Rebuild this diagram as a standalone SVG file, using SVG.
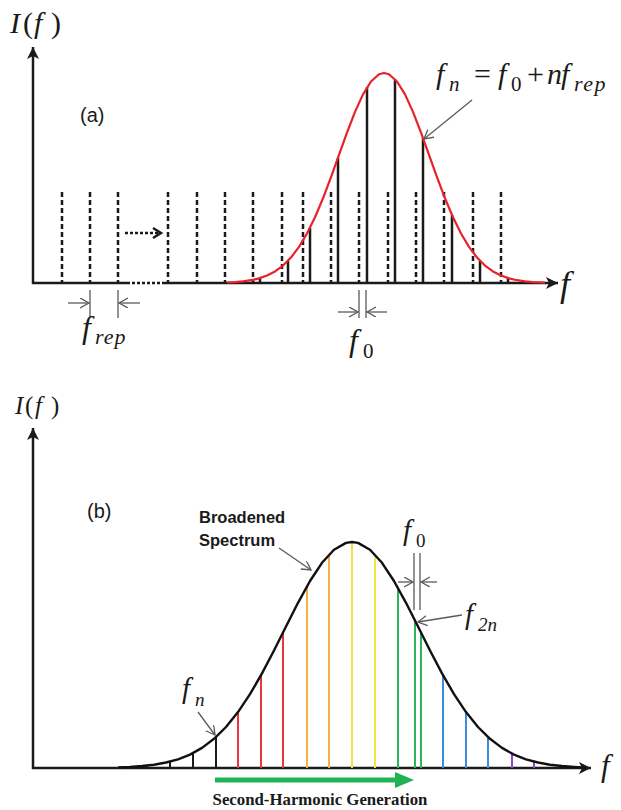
<svg xmlns="http://www.w3.org/2000/svg" width="621" height="810" viewBox="0 0 621 810">
<defs>
<style>
.axis{stroke:#1a1a1a;stroke-width:2.5;fill:none}
.dash{stroke:#1a1a1a;stroke-width:2.5;stroke-dasharray:5 3;fill:none}
.comb{stroke:#1a1a1a;stroke-width:2.5}
.gray{stroke:#5a5a5a;stroke-width:1.3;fill:none}
.ann{stroke:#5a5a5a;stroke-width:1.3;fill:none;marker-end:url(#open)}
.math{font-family:"Liberation Serif","Times New Roman",serif;fill:#1a1a1a}
.it{font-style:italic}
.sans{font-family:"Liberation Sans",Arial,sans-serif;fill:#1a1a1a}
.ln{stroke-width:2}
</style>
<marker id="solid" markerUnits="userSpaceOnUse" markerWidth="14" markerHeight="14" refX="12" refY="6" orient="auto">
<path d="M0,0 L12,6 L0,12 L3,6 Z" fill="#1a1a1a"/>
</marker>
<marker id="open" markerUnits="userSpaceOnUse" markerWidth="12" markerHeight="12" refX="9" refY="5" orient="auto">
<path d="M0,0 L9,5 L0,10" fill="none" stroke="#5a5a5a" stroke-width="1.3"/>
</marker>
</defs>
<rect width="621" height="810" fill="#fff"/>

<!-- ================= Panel (a) ================= -->
<g id="panel-a">
<g id="a-axes">
<line class="axis" x1="33" y1="284" x2="33" y2="47" marker-end="url(#solid)"/>
<line class="axis" x1="32" y1="283" x2="127" y2="283"/>
<line class="axis" x1="127" y1="283" x2="162" y2="283" stroke-dasharray="3 2"/>
<line class="axis" x1="162" y1="283" x2="558" y2="283" marker-end="url(#solid)"/>
<text class="math" font-size="30" y="33"><tspan x="10" class="it">I</tspan><tspan x="23">(</tspan><tspan x="34" class="it">f</tspan><tspan x="51">)</tspan></text>
<text class="math it" x="560" y="296" font-size="36">f</text>
<text class="sans" x="80" y="122" font-size="20">(a)</text>
</g>
<g id="a-dashed-comb">
<line class="dash" x1="62" y1="192" x2="62" y2="283"/>
<line class="dash" x1="90" y1="192" x2="90" y2="283"/>
<line class="dash" x1="118" y1="192" x2="118" y2="283"/>
<line class="dash" x1="168" y1="192" x2="168" y2="283"/>
<line class="dash" x1="197" y1="192" x2="197" y2="283"/>
<line class="dash" x1="225" y1="192" x2="225" y2="283"/>
<line class="dash" x1="253" y1="192" x2="253" y2="283"/>
<line class="dash" x1="282" y1="192" x2="282" y2="283"/>
<line class="dash" x1="303" y1="192" x2="303" y2="283"/>
<line class="dash" x1="331" y1="192" x2="331" y2="283"/>
<line class="dash" x1="359" y1="192" x2="359" y2="283"/>
<line class="dash" x1="388" y1="192" x2="388" y2="283"/>
<line class="dash" x1="416" y1="192" x2="416" y2="283"/>
<line class="dash" x1="444" y1="192" x2="444" y2="283"/>
<line class="dash" x1="473" y1="192" x2="473" y2="283"/>
<line class="dash" x1="501" y1="192" x2="501" y2="283"/>
</g>
<g id="a-shift-arrow">
<line x1="125" y1="233" x2="158" y2="233" stroke="#1a1a1a" stroke-width="2.5" stroke-dasharray="3 2"/>
<polyline points="153,228 161,233 153,238" fill="none" stroke="#1a1a1a" stroke-width="2.5"/>
</g>
<g id="a-solid-comb">
<line class="comb" x1="260" y1="283" x2="260" y2="278"/>
<line class="comb" x1="288" y1="283" x2="288" y2="261"/>
<line class="comb" x1="310" y1="283" x2="310" y2="228"/>
<line class="comb" x1="338" y1="283" x2="338" y2="158"/>
<line class="comb" x1="367" y1="283" x2="367" y2="87"/>
<line class="comb" x1="395" y1="283" x2="395" y2="79"/>
<line class="comb" x1="423" y1="283" x2="423" y2="138"/>
<line class="comb" x1="452" y1="283" x2="452" y2="215"/>
<line class="comb" x1="480" y1="283" x2="480" y2="261"/>
<line class="comb" x1="508" y1="283" x2="508" y2="278"/>
</g>
<g id="a-envelope">
<polyline fill="none" stroke="#e8222a" stroke-width="2.2" stroke-linejoin="round" points="227,282.5 235,282.1 243,281.4 251,280.2 259,278.4 267,275.5 275,271.4 283,265.6 291,257.5 299,246.9 307,233.5 315,217.2 323,198.3 331,177.2 339,154.9 347,132.6 355,111.9 363,94.4 371,81.5 379,74.3 384,73 389,74.3 397,81.5 405,94.4 413,111.9 421,132.6 429,154.9 437,177.2 445,198.3 453,217.2 461,233.5 469,246.9 477,257.5 485,265.6 493,271.4 501,275.5 509,278.4 517,280.2 525,281.4 533,282.1 545,282.7"/>
</g>
<g id="a-frep">
<line class="gray" x1="90" y1="290" x2="90" y2="318"/>
<line class="gray" x1="118" y1="290" x2="118" y2="318"/>
<line class="ann" x1="68" y1="303" x2="89" y2="303"/>
<line class="ann" x1="140" y1="303" x2="119" y2="303"/>
<text class="math it" font-size="32"><tspan x="82" y="338">f</tspan><tspan x="95" y="344" font-size="22" letter-spacing="1">rep</tspan></text>
</g>
<g id="a-f0">
<line class="gray" x1="359" y1="290" x2="359" y2="318"/>
<line class="gray" x1="366" y1="290" x2="366" y2="318"/>
<line class="ann" x1="338" y1="312" x2="358" y2="312"/>
<line class="ann" x1="387" y1="312" x2="367" y2="312"/>
<text class="math" font-size="32"><tspan x="349" y="351" class="it">f</tspan><tspan x="363" y="358" font-size="21">0</tspan></text>
</g>
<g id="a-formula">
<text class="math" font-size="30" y="84"><tspan x="436" class="it">f</tspan><tspan x="449" y="91" font-size="21" class="it">n</tspan><tspan x="474" y="84">=</tspan><tspan x="498" class="it">f</tspan><tspan x="511" y="91" font-size="21">0</tspan><tspan x="527" y="84">+</tspan><tspan x="547" class="it">n</tspan><tspan x="561" class="it">f</tspan><tspan x="574" y="91" font-size="22" class="it" letter-spacing="1.5">rep</tspan></text>
</g>
</g>

<!-- ================= Panel (b) ================= -->
<g id="panel-b">
<g id="b-axes">
<line class="axis" stroke-width="2.2" x1="33" y1="769" x2="33" y2="428" marker-end="url(#solid)"/>
<line class="axis" stroke-width="2.2" x1="32" y1="768" x2="591" y2="768" marker-end="url(#solid)"/>
<text class="math" font-size="25" y="414"><tspan x="15" class="it">I</tspan><tspan x="25">(</tspan><tspan x="35" class="it">f</tspan><tspan x="51">)</tspan></text>
<text class="math it" x="601" y="776" font-size="31">f</text>
<text class="sans" x="87" y="518" font-size="20">(b)</text>
</g>
<g id="b-comb">
<line class="ln" stroke="#1a1a1a" x1="147" y1="768" x2="147" y2="765.5"/>
<line class="ln" stroke="#1a1a1a" x1="170" y1="768" x2="170" y2="761.6"/>
<line class="ln" stroke="#1a1a1a" x1="193" y1="768" x2="193" y2="753.1"/>
<line class="ln" stroke="#1a1a1a" x1="216" y1="768" x2="216" y2="737.1"/>
<line class="ln" stroke="#e8363c" x1="238" y1="768" x2="238" y2="712.1"/>
<line class="ln" stroke="#e8363c" x1="261" y1="768" x2="261" y2="675.2"/>
<line class="ln" stroke="#e8363c" x1="283" y1="768" x2="283" y2="632.6"/>
<line class="ln" stroke="#f6b040" x1="307" y1="768" x2="307" y2="586.2"/>
<line class="ln" stroke="#f6b040" x1="329" y1="768" x2="329" y2="554.5"/>
<line class="ln" stroke="#f2e43a" x1="352" y1="768" x2="352" y2="542"/>
<line class="ln" stroke="#f2e43a" x1="375" y1="768" x2="375" y2="554.5"/>
<line class="ln" stroke="#2bb35e" x1="398" y1="768" x2="398" y2="588"/>
<line class="ln" stroke="#2bb35e" x1="415" y1="768" x2="415" y2="620.5"/>
<line class="ln" stroke="#2bb35e" x1="421" y1="768" x2="421" y2="632.6"/>
<line class="ln" stroke="#3a8ed8" x1="443" y1="768" x2="443" y2="675.2"/>
<line class="ln" stroke="#3a8ed8" x1="466" y1="768" x2="466" y2="712.1"/>
<line class="ln" stroke="#3a8ed8" x1="488" y1="768" x2="488" y2="737.1"/>
<line class="ln" stroke="#8a4cc4" x1="512" y1="768" x2="512" y2="753.6"/>
<line class="ln" stroke="#8a4cc4" x1="534" y1="768" x2="534" y2="761.6"/>
</g>
<g id="b-envelope">
<polyline fill="none" stroke="#111" stroke-width="2.4" stroke-linejoin="round" points="118,767.4 130,766.9 142,766 154,764.7 166,762.5 178,759.3 190,754.6 202,747.9 214,738.8 226,727 238,712.1 250,694.2 262,673.4 274,650.5 286,626.5 298,602.8 310,581 322,562.8 334,549.7 346,542.9 352,542 358,542.9 370,549.7 382,562.8 394,581 406,602.8 418,626.5 430,650.5 442,673.4 454,694.2 466,712.1 478,727 490,738.8 502,747.9 514,754.6 526,759.3 538,762.5 550,764.7 562,766 574,766.9 586,767.6"/>
</g>
<g id="b-f0">
<line class="gray" x1="414" y1="553" x2="414" y2="610"/>
<line class="gray" x1="420" y1="553" x2="420" y2="610"/>
<line class="ann" x1="398" y1="582" x2="413" y2="582"/>
<line class="ann" x1="437" y1="582" x2="421" y2="582"/>
<text class="math" font-size="29"><tspan x="403" y="540" class="it">f</tspan><tspan x="416" y="547" font-size="19">0</tspan></text>
</g>
<g id="b-labels">
<text class="sans" font-size="16.5" font-weight="bold"><tspan x="199" y="523">Broadened</tspan><tspan x="199" y="546">Spectrum</tspan></text>
<text class="math it" font-size="29"><tspan x="465" y="624">f</tspan><tspan x="478" y="631" font-size="19">2n</tspan></text>
<text class="math it" font-size="29"><tspan x="182" y="698">f</tspan><tspan x="195" y="706" font-size="19">n</tspan></text>
</g>
<g id="b-shg">
<line x1="215" y1="780" x2="398" y2="780" stroke="#1fb356" stroke-width="5"/>
<path d="M395,772 L414,780 L395,788 Z" fill="#1fb356"/>
<text class="math" x="320" y="805" font-size="16.8" font-weight="bold" text-anchor="middle">Second-Harmonic Generation</text>
</g>
</g>

<!-- ================= Connectors (annotation arrows) ================= -->
<g id="connectors">
<line class="ann" x1="472" y1="100" x2="424" y2="139"/>
<line class="ann" x1="279" y1="548" x2="311" y2="570"/>
<line class="ann" x1="462" y1="615" x2="418" y2="622"/>
<line class="ann" x1="198" y1="712" x2="215" y2="735"/>
</g>
</svg>
